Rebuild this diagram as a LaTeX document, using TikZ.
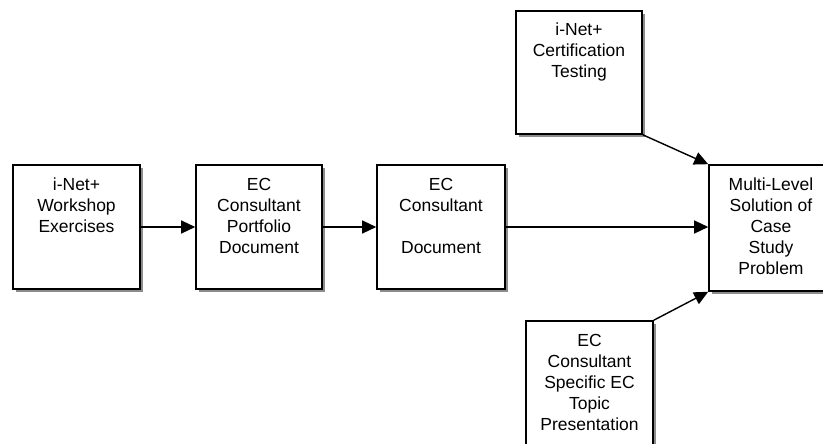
\documentclass[tikz,border=0pt]{standalone}
\usepackage{fontspec}
\setmainfont{Liberation Sans}
\usetikzlibrary{arrows.meta,shadows}
\begin{document}
\begin{tikzpicture}[x=1pt,y=-1pt,
  boxnode/.style={draw=black,line width=1.6pt,fill=white,inner sep=0pt,
    drop shadow={shadow xshift=3pt,shadow yshift=-3pt,fill=black!45,opacity=1}},
  txt/.style={anchor=north,align=center,inner sep=0pt,font=\fontsize{17.5}{21}\selectfont},
  arr/.style={line width=1.4pt,-{Triangle[length=14pt,width=13pt]}}]
\clip (0,0) rectangle (823,444);
\fill[white] (0,0) rectangle (823,444);
% boxes
\node[boxnode,minimum width=127pt,minimum height=124pt] (b1) at (76.5,227) {};
\node[boxnode,minimum width=126pt,minimum height=124pt] (b2) at (259,227) {};
\node[boxnode,minimum width=128pt,minimum height=124pt] (b3) at (441,227) {};
\node[boxnode,minimum width=124pt,minimum height=126pt] (tg) at (771,228) {};
\node[boxnode,minimum width=126pt,minimum height=123pt] (tb) at (579,72.5) {};
\node[boxnode,minimum width=127pt,minimum height=139pt] (bb) at (589.5,390.5) {};
% texts
\node[txt] (b1t) at ([yshift=-13.3pt]b1.north) {\rule{0pt}{13pt}i-Net+\\Workshop\\Exercises};
\node[txt] (b2t) at ([yshift=-13.3pt]b2.north) {\rule{0pt}{13pt}EC\\Consultant\\Portfolio\\Document};
\node[txt] (b3t) at ([yshift=-13.3pt]b3.north) {\rule{0pt}{13pt}EC\\Consultant\\[21pt]Document};
\node[txt] (tgt) at ([yshift=-13.3pt]tg.north) {\rule{0pt}{13pt}Multi-Level\\Solution of\\Case\\Study\\Problem};
\node[txt] (tbt) at ([yshift=-12.3pt]tb.north) {\rule{0pt}{13pt}i-Net+\\Certification\\Testing};
\node[txt] (bbt) at ([yshift=-13.3pt]bb.north) {\rule{0pt}{13pt}EC\\Consultant\\Specific EC\\Topic\\Presentation};
% connectors
\draw[arr] (b1.east) -- (b2.west);
\draw[arr] (b2.east) -- (b3.west);
\draw[arr] (b3.east) -- (b3.east -| tg.west);
\draw[arr] (tb.south east) -- (tg.north west);
\draw[arr] (bb.north east) -- (tg.south west);
\end{tikzpicture}
\end{document}
